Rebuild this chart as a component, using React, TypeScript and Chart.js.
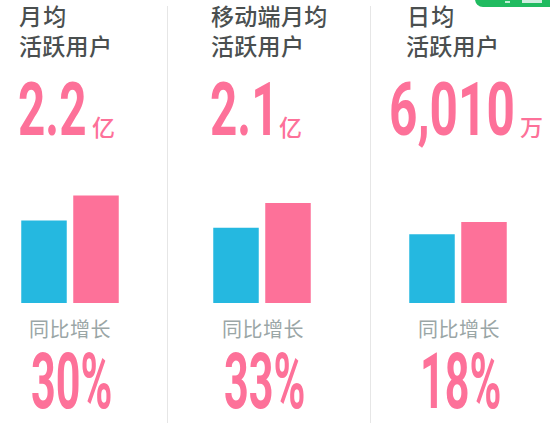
import { useEffect, useRef } from 'react';
import { Chart, registerables } from 'chart.js';

Chart.register(...registerables);

const periods = ['上年同期', '本期'];
const mauValues = [1.69, 2.2];
const mobileValues = [1.58, 2.1];
const dauValues = [5093, 6010];
const barColors = ['#25b8e0', '#fd7199'];

const CJK = '"Noto Sans CJK SC", sans-serif';
const DIGITS = 'Roboto, sans-serif';

function Bars({ values, max, left }: { values: number[]; max: number; left: number }) {
  const ref = useRef<HTMLCanvasElement>(null);

  useEffect(() => {
    if (!ref.current) return;
    const chart = new Chart(ref.current, {
      type: 'bar',
      data: {
        labels: periods,
        datasets: [{
          data: values,
          backgroundColor: barColors,
          barPercentage: 1,
          categoryPercentage: 0.875,
        }],
      },
      options: {
        responsive: false,
        animation: false,
        plugins: { legend: { display: false }, tooltip: { enabled: false } },
        scales: {
          x: { display: false },
          y: { display: false, min: 0, max },
        },
      },
    });
    return () => { chart.destroy(); };
  }, [values, max]);

  return (
    <canvas
      ref={ref}
      width={104}
      height={110}
      style={{ position: 'absolute', left, top: 193, width: 104, height: 110 }}
    />
  );
}

function Text({ x, y, size, color, children, font = CJK, weight = 400, sx = 1, spacing = 0 }: any) {
  return (
    <div style={{
      position: 'absolute', left: x, top: y, fontFamily: font, fontSize: size, fontWeight: weight,
      color, lineHeight: 1, whiteSpace: 'nowrap', letterSpacing: spacing,
      transform: `scaleX(${sx})`, transformOrigin: 'left top',
    }}>
      {children}
    </div>
  );
}

const Rule = ({ x }: { x: number }) => (
  <div style={{ position: 'absolute', left: x, top: 6, width: 1, height: 417, background: '#e6e6e6' }} />
);

export default function App() {
  return (
    <div style={{ position: 'absolute', left: 0, top: 0, width: 550, height: 443, overflow: 'hidden', background: '#fff' }}>
      {/* corner of the sticker that is cut off at the top right */}
      <div style={{
        position: 'absolute', left: 475, top: -14, width: 90, height: 21, borderRadius: 8,
        background: '#20bb60',
      }} />
      <div style={{ position: 'absolute', left: 522, top: 0, width: 20, height: 3, background: '#cfeee0' }} />
      <div style={{ position: 'absolute', left: 505, top: 1, width: 5, height: 2, background: '#bdeed4' }} />
      <Rule x={167} />
      <Rule x={370} />

      <Text x={19} y={4} size={23} color="#4a4f4f" weight={500} spacing={1.2}>月均</Text>
      <Text x={19} y={34} size={23} color="#4a4f4f" weight={500} spacing={0.3}>活跃用户</Text>
      <Text x={211} y={4} size={23} color="#4a4f4f" weight={500} spacing={0.3}>移动端月均</Text>
      <Text x={211} y={34} size={23} color="#4a4f4f" weight={500} spacing={0.3}>活跃用户</Text>
      <Text x={407} y={4} size={23} color="#4a4f4f" weight={500} spacing={1.2}>日均</Text>
      <Text x={406} y={34} size={23} color="#4a4f4f" weight={500} spacing={0.3}>活跃用户</Text>

      <Text x={18} y={72} size={75} font={DIGITS} weight={700} color="#fd7199" sx={0.635}>2.2</Text>
      <Text x={92} y={115} size={23} weight={500} color="#fd7199">亿</Text>
      <Text x={210} y={72} size={75} font={DIGITS} weight={700} color="#fd7199" sx={0.635}>2.1</Text>
      <Text x={279} y={115} size={23} weight={500} color="#fd7199">亿</Text>
      <Text x={389} y={72} size={75} font={DIGITS} weight={700} color="#fd7199" sx={0.66}>6,010</Text>
      <Text x={520} y={115} size={23} weight={500} color="#fd7199">万</Text>

      <Bars values={mauValues} max={2.25} left={18} />
      <Bars values={mobileValues} max={2.31} left={210} />
      <Bars values={dauValues} max={8162} left={406} />

      <Text x={29} y={319} size={20} color="#9aa6a6" spacing={0.5}>同比增长</Text>
      <Text x={222} y={319} size={20} color="#9aa6a6" spacing={0.5}>同比增长</Text>
      <Text x={418} y={319} size={20} color="#9aa6a6" spacing={0.5}>同比增长</Text>

      <Text x={31} y={344} size={77} font={DIGITS} weight={700} color="#fd7199" sx={0.56}>30%</Text>
      <Text x={224} y={344} size={77} font={DIGITS} weight={700} color="#fd7199" sx={0.56}>33%</Text>
      <Text x={420} y={344} size={77} font={DIGITS} weight={700} color="#fd7199" sx={0.56}>18%</Text>
    </div>
  );
}
